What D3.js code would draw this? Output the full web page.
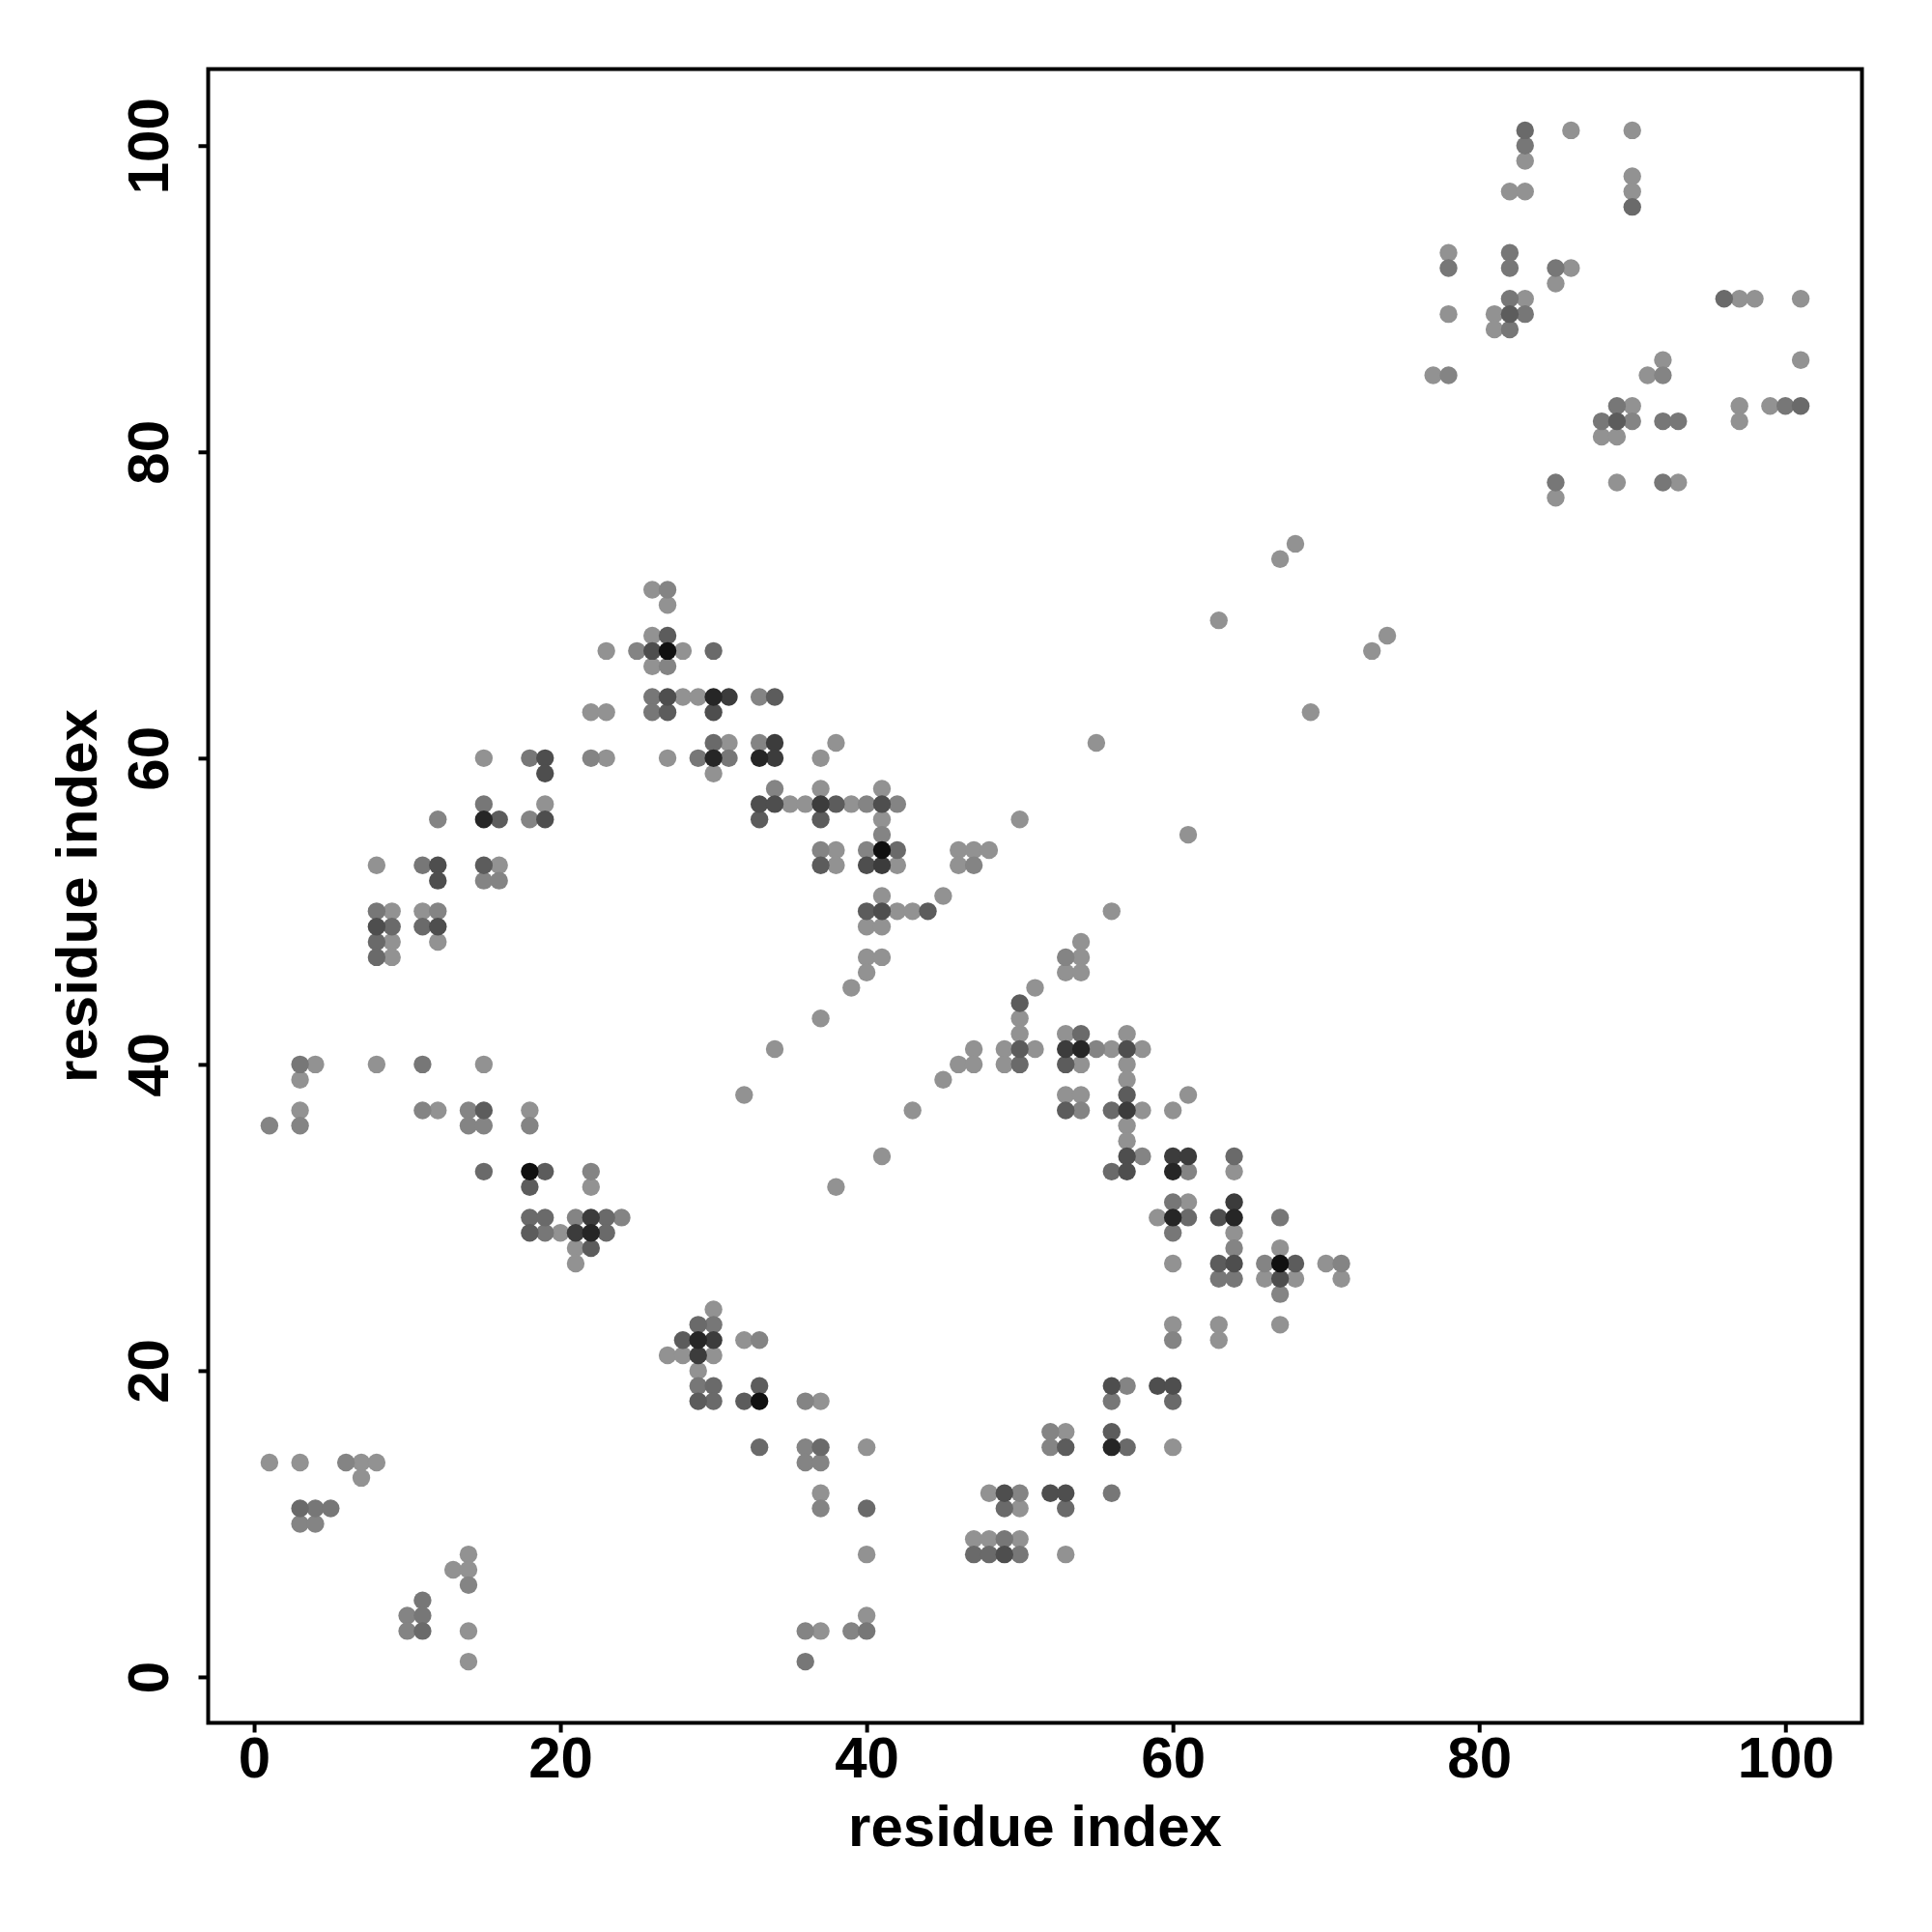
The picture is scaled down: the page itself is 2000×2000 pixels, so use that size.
<!DOCTYPE html>
<html>
<head>
<meta charset="utf-8">
<script src="https://cdn.jsdelivr.net/npm/d3@7"></script>
<style>
  html, body { margin: 0; padding: 0; background: #ffffff; }
  svg text { font-family: "Liberation Sans", Arial, Helvetica, sans-serif; font-weight: bold; }
</style>
</head>
<body>
<svg id="chart" width="2000" height="2000"></svg>
<script>
// ---- data: contacts (residue i, residue j), grouped by shade level (1 = lightest, 9 = darkest)
const shade1 = [[1,14],[3,14],[7,14],[8,14],[7,13],[14,8],[13,7],[14,7],[14,3],[14,1],
  [30,24],[32,22],[27,21],[28,21],[30,21],[29,20],[37,18],[40,15],[37,12],[40,8],[48,12],[50,11],[47,9],[48,9],[50,9],[40,4],[37,3],
  [60,23],[63,23],[67,23],[63,22],[53,16],[60,15],[53,8],
  [9,50],[11,50],[9,48],[12,48],[9,47],[4,40],[8,40],[15,40],[3,39],[3,37],[12,37],[18,37],[22,32],[20,29],[21,28],[21,27],
  [41,51],[45,51],[42,50],[43,50],[40,49],[41,49],[40,47],[41,47],[40,46],[39,45],[37,43],[34,41],[32,38],[51,45],[50,43],[50,42],[49,41],[49,40],[51,41],[47,41],[46,40],[47,40],[45,39],[43,37],[41,34],[38,32],
  [56,50],[54,48],[54,47],[53,46],[54,46],[53,42],[57,42],[56,41],[58,41],[54,40],[57,40],[57,39],[53,38],[54,38],[61,38],[58,37],[60,37],[57,36],[57,35],[64,33],[61,31],[59,30],[64,29],[67,28],[60,27],[70,27],[66,26],[68,26],[71,26],
  [23,67],[22,63],[23,63],[15,60],[23,60],[19,57],[8,53],[16,53],
  [26,71],[27,70],[26,68],[28,67],[26,66],[28,64],[29,64],[31,61],[38,61],[27,60],[37,60],[30,59],[37,58],[41,58],[35,57],[36,57],[39,57],[41,56],[50,56],[38,54],[46,54],[47,54],[48,54],[38,53],[42,53],[46,53],
  [68,74],[67,73],[63,69],[74,68],[73,67],[69,63],[55,61],[61,55],
  [86,101],[90,101],[83,99],[90,98],[82,97],[83,97],[90,97],[78,93],[86,92],[85,91],[83,90],[97,90],[98,90],[101,90],[78,89],[81,89],[81,88],[92,86],[101,86],[77,85],[91,85],[90,83],[97,83],[99,83],[97,82],[88,81],[89,81],[89,78],[93,78],[85,77]];
const shade2 = [[6,14],[3,10],[4,10],[14,6],[10,4],[10,3],
  [33,22],[36,18],[36,15],[36,14],[37,14],[37,11],[50,12],[36,3],[39,3],
  [67,25],[60,22],[57,19],[52,16],[52,15],
  [12,50],[11,37],[14,37],[1,36],[3,36],[14,36],[15,36],[18,36],[22,33],[21,30],[24,30],
  [53,47],[55,41],[54,37],[58,34],[61,33],[64,28],[66,27],[71,27],
  [25,67],[22,60],[12,56],[18,56],[15,52],[16,52],
  [27,71],[27,66],[33,64],[33,61],[34,58],[40,57],[42,57],[41,55],[37,54],[40,54],[47,53],
  [78,85],[92,85],[90,82]];
const shade3 = [[4,11],[5,11],[11,5],[11,4],
  [30,23],[29,19],[49,9],[50,8],[40,3],[36,1],
  [56,18],[56,12],
  [8,50],[3,40],[11,40],[19,29],
  [60,31],[67,30],[60,29],[63,26],[64,26],
  [18,60],[15,57],[11,53],
  [26,64],[26,63],[29,60],[31,60],
  [83,100],[82,93],[78,92],[82,92],[85,92],[82,90],[83,89],[82,88],[89,83],[100,83],[88,82],[92,82],[93,82],[85,78],[92,78]];
const shade4 = [[3,11],[11,3],
  [29,23],[30,19],[30,18],[33,15],[37,15],[40,11],[49,11],[47,8],[48,8],
  [60,18],[57,15],[53,11],
  [9,49],[11,49],[8,48],[8,47],[15,33],[18,30],[19,30],[23,30],[23,29],
  [50,40],[54,42],[56,37],[64,34],[56,33],[61,30],
  [30,67],[30,61],[42,54],
  [83,101],[90,96],[96,90],[101,83]];
const shade5 = [[28,22],[33,19],[29,18],[32,18],
  [56,16],[53,15],
  [15,37],[19,33],[18,32],[18,29],[22,28],
  [40,50],[44,50],[50,44],[50,41],
  [53,40],[57,38],[53,37],[63,27],[68,27],
  [16,56],[15,53],
  [27,68],[34,64],[27,63],[38,57],[33,56],[37,56],[37,53],
  [82,89],[89,82]];
const shade6 = [[49,12],[49,8],
  [56,19],[59,19],[60,19],[52,12],[53,12],
  [8,49],[12,49],
  [41,50],
  [57,41],[57,34],[57,33],[63,30],[64,27],[67,26],
  [19,60],[19,59],[19,56],[12,53],[12,52],
  [26,67],[27,64],[30,63],[33,57],[34,57],[41,57],[40,53]];
const shade7 = [[30,22],[29,21],
  [22,30],[21,29],
  [53,41],[57,37],[60,34],[61,34],[64,31],
  [31,64],[34,61],[34,60],[37,57],[41,53]];
const shade8 = [[29,22],[56,15],[22,29],[54,41],[60,33],[60,30],[64,30],[15,56],[30,64],[30,60],[33,60]];
const shade9 = [[33,18],[18,33],[67,27],[27,67],[41,54]];

const shadeGroups = [shade1, shade2, shade3, shade4, shade5, shade6, shade7, shade8, shade9];
const shadeLevels = [1, 2, 3, 4, 5, 6, 7, 8, 9];
const shadeColors = ["#929292", "#848484", "#777777", "#6a6a6a", "#5c5c5c", "#4e4e4e", "#3c3c3c", "#262626", "#101010"];
const tickValues = [0, 20, 40, 60, 80, 100];
const xTitle = "residue index";
const yTitle = "residue index";

// ---- build
const points = [];
shadeGroups.forEach((g, k) => g.forEach(p => points.push({x: p[0], y: p[1], level: shadeLevels[k]})));

const svg = d3.select("#chart");
svg.append("rect").attr("x", 0).attr("y", 0).attr("width", 2000).attr("height", 2000).attr("fill", "#ffffff");

const L = 215.5, R = 1927.5, T = 71.5, B = 1783.5;
const x = d3.scaleLinear().domain([-3, 105]).range([L, R]);
const y = d3.scaleLinear().domain([-3, 105]).range([B, T]);
const color = d3.scaleLinear().domain(shadeLevels).range(shadeColors);

svg.append("g")
  .selectAll("circle")
  .data(points)
  .join("circle")
  .attr("cx", d => x(d.x))
  .attr("cy", d => y(d.y))
  .attr("r", 9.2)
  .attr("fill", d => color(d.level));

// box
svg.append("rect")
  .attr("x", L).attr("y", T).attr("width", R - L).attr("height", B - T)
  .attr("fill", "none").attr("stroke", "#000").attr("stroke-width", 4);

// x axis
const gx = svg.append("g").attr("transform", `translate(0,${B})`)
  .call(d3.axisBottom(x).tickValues(tickValues).tickSize(10).tickSizeOuter(0).tickPadding(3.5).tickFormat(d3.format("d")));
gx.select(".domain").remove();
gx.selectAll(".tick line").attr("stroke", "#000").attr("stroke-width", 4);
gx.selectAll(".tick text").attr("fill", "#000").style("font-size", "60px")
  .style("font-family", "'Liberation Sans', Arial, sans-serif").style("font-weight", "bold");

// y axis
const gy = svg.append("g").attr("transform", `translate(${L},0)`)
  .call(d3.axisLeft(y).tickValues(tickValues).tickSize(10).tickSizeOuter(0).tickFormat(d3.format("d")));
gy.select(".domain").remove();
gy.selectAll(".tick line").attr("stroke", "#000").attr("stroke-width", 4);
gy.selectAll(".tick text")
  .attr("x", null).attr("dy", null)
  .attr("transform", "translate(-42,0) rotate(-90)")
  .attr("text-anchor", "middle")
  .attr("fill", "#000").style("font-size", "60px")
  .style("font-family", "'Liberation Sans', Arial, sans-serif").style("font-weight", "bold");

// titles
svg.append("text")
  .attr("x", (L + R) / 2).attr("y", 1911)
  .attr("text-anchor", "middle")
  .style("font-size", "60px").attr("fill", "#000")
  .text(xTitle);
svg.append("text")
  .attr("transform", `translate(100,${(T + B) / 2}) rotate(-90)`)
  .attr("text-anchor", "middle")
  .style("font-size", "60px").attr("fill", "#000")
  .text(yTitle);
</script>
</body>
</html>
